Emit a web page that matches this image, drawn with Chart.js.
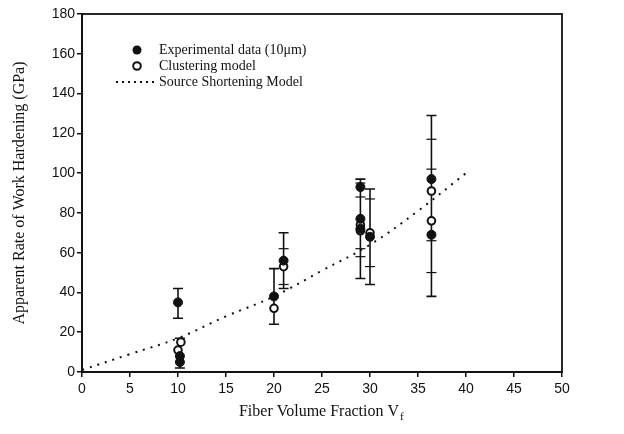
<!DOCTYPE html>
<html>
<head>
<meta charset="utf-8">
<script src="https://cdn.jsdelivr.net/npm/chart.js@4"></script>
<style>
  html, body { margin: 0; padding: 0; background: #fff; }
  #wrap { width: 624px; height: 434px; }
</style>
</head>
<body>
<div id="wrap"><canvas id="whChart" width="624" height="434"></canvas></div>
<script>
// source shortening model (dotted curve)
const modelX = [0, 5, 10, 15, 20, 25, 30, 35, 40];
const modelY = [1, 9, 17, 28, 38, 51, 64, 81, 100];

// experimental data (filled circles)
const expX = [10, 10.2, 10.2, 20, 21, 29, 29, 29, 30, 36.4, 36.4];
const expY = [35, 8, 5, 38, 56, 93, 77, 72, 68, 97, 69];

// clustering model (open circles)
const clusX = [10, 10.3, 20, 21, 29, 29, 30, 36.4, 36.4];
const clusY = [11, 15, 32, 53, 74, 71, 70, 91, 76];

// error bars: x, low, high
const errX = [10, 10.2, 20, 21, 29, 30, 36.4];
const errLo = [27, 2, 24, 42, 47, 44, 38];
const errHi = [42, 17, 52, 70, 97, 92, 129];

// extra cross marks along the bars
const markX = [21, 21, 29, 29, 29, 29, 30, 30, 36.4, 36.4, 36.4, 36.4];
const markY = [62, 44, 95, 88, 62, 58, 87, 53, 117, 102, 66, 50];

const ink = "#111";

const frameAndText = {
  id: "frameAndText",
  beforeDatasetsDraw(chart) {
    const { ctx, scales: { x, y } } = chart;
    ctx.save();
    ctx.strokeStyle = ink;
    ctx.lineWidth = 1.6;
    for (let i = 0; i < errX.length; i++) {
      const px = x.getPixelForValue(errX[i]);
      const lo = y.getPixelForValue(errLo[i]);
      const hi = y.getPixelForValue(errHi[i]);
      ctx.beginPath();
      ctx.moveTo(px, lo); ctx.lineTo(px, hi);
      ctx.moveTo(px - 5, lo); ctx.lineTo(px + 5, lo);
      ctx.moveTo(px - 5, hi); ctx.lineTo(px + 5, hi);
      ctx.stroke();
    }
    ctx.lineWidth = 1.2;
    for (let i = 0; i < markX.length; i++) {
      const px = x.getPixelForValue(markX[i]);
      const py = y.getPixelForValue(markY[i]);
      ctx.beginPath();
      ctx.moveTo(px - 5, py); ctx.lineTo(px + 5, py);
      ctx.stroke();
    }
    ctx.restore();
  },
  afterDraw(chart) {
    const { ctx, chartArea: a } = chart;
    ctx.save();
    ctx.strokeStyle = ink;
    ctx.lineWidth = 1.8;
    ctx.strokeRect(a.left, a.top, a.right - a.left, a.bottom - a.top);

    // legend
    ctx.fillStyle = ink;
    ctx.font = "14px 'Liberation Serif', serif";
    ctx.textBaseline = "middle";
    ctx.beginPath();
    ctx.arc(137, 50, 4.5, 0, Math.PI * 2);
    ctx.fill();
    ctx.fillText("Experimental data (10\u03bcm)", 159, 50);
    ctx.beginPath();
    ctx.arc(137, 66, 3.8, 0, Math.PI * 2);
    ctx.fillStyle = "#fff";
    ctx.fill();
    ctx.lineWidth = 2;
    ctx.stroke();
    ctx.fillStyle = ink;
    ctx.fillText("Clustering model", 159, 66);
    ctx.setLineDash([2, 4]);
    ctx.beginPath();
    ctx.moveTo(116, 82); ctx.lineTo(154, 82);
    ctx.stroke();
    ctx.setLineDash([]);
    ctx.fillText("Source Shortening Model", 159, 82);

    // axis titles
    ctx.font = "16px 'Liberation Serif', serif";
    ctx.textBaseline = "alphabetic";
    const t = "Fiber Volume Fraction V";
    const w = ctx.measureText(t).width;
    const cx = (a.left + a.right) / 2;
    ctx.textAlign = "left";
    ctx.fillText(t, cx - w / 2 - 3, 416);
    ctx.font = "11px 'Liberation Serif', serif";
    ctx.fillText("f", cx + w / 2 - 2, 420);

    ctx.font = "16px 'Liberation Serif', serif";
    ctx.textAlign = "center";
    ctx.translate(24, (a.top + a.bottom) / 2);
    ctx.rotate(-Math.PI / 2);
    ctx.fillText("Apparent Rate of Work Hardening (GPa)", 0, 0);
    ctx.restore();
  }
};

new Chart(document.getElementById("whChart"), {
  type: "scatter",
  data: {
    datasets: [
      {
        type: "line",
        data: modelX.map((v, i) => ({ x: v, y: modelY[i] })),
        borderColor: ink,
        borderWidth: 2,
        borderDash: [2, 6],
        pointRadius: 0,
        tension: 0.4,
        fill: false
      },
      {
        data: expX.map((v, i) => ({ x: v, y: expY[i] })),
        backgroundColor: ink,
        borderColor: ink,
        pointRadius: 4.5
      },
      {
        data: clusX.map((v, i) => ({ x: v, y: clusY[i] })),
        backgroundColor: "#fff",
        borderColor: ink,
        borderWidth: 2,
        pointRadius: 3.8
      }
    ]
  },
  options: {
    responsive: false,
    animation: false,
    layout: { padding: { top: 14, right: 62, left: 0, bottom: 0 } },
    plugins: { legend: { display: false }, tooltip: { enabled: false } },
    scales: {
      x: {
        type: "linear",
        min: 0,
        max: 50,
        afterFit(s) { s.height = 62; },
        ticks: { stepSize: 5, color: ink, padding: 4, font: { family: "'Liberation Sans', sans-serif", size: 14 } },
        grid: { drawOnChartArea: false, color: ink, tickLength: 5, lineWidth: 1.5 },
        border: { color: ink, width: 1.8 }
      },
      y: {
        min: 0,
        max: 180,
        afterFit(s) { s.width = 82; },
        ticks: { stepSize: 20, color: ink, padding: 2, font: { family: "'Liberation Sans', sans-serif", size: 14 } },
        grid: { drawOnChartArea: false, color: ink, tickLength: 5, lineWidth: 1.5 },
        border: { color: ink, width: 1.8 }
      }
    }
  },
  plugins: [frameAndText]
});
</script>
</body>
</html>
